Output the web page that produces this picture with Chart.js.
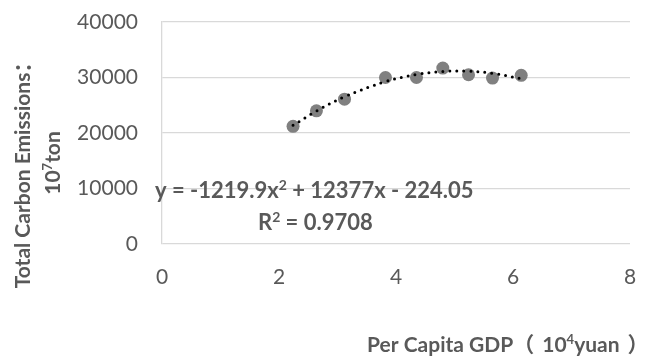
<!DOCTYPE html>
<html>
<head>
<meta charset="utf-8">
<script src="https://cdn.jsdelivr.net/npm/chart.js@4.4.1/dist/chart.umd.min.js"></script>
<style>
html,body{margin:0;padding:0;background:#fff;}
#wrap{width:646px;height:358px;}
</style>
</head>
<body>
<div id="wrap"><canvas id="c" width="646" height="358"></canvas></div>
<script>
// Data
const gdp = [2.24, 2.64, 3.12, 3.82, 4.35, 4.80, 5.24, 5.65, 6.14];
const emissions = [21200, 24000, 26100, 30000, 30000, 31700, 30500, 29900, 30400];
// Trendline values at the same x (from the displayed equation y = -1219.9x² + 12377x - 224.05)
const trendValues = [21380, 23950, 26520, 29260, 30530, 31080, 31140, 30760, 29780];
const xTicks = [0, 2, 4, 6, 8];
const yTicks = [0, 10000, 20000, 30000, 40000];
const equationText = [{t:'y = -1219.9x'},{t:'2',sup:true},{t:' + 12377x - 224.05'}];
const r2Text = [{t:'R'},{t:'2',sup:true},{t:' = 0.9708'}];
const yTitle1 = [{t:'Total Carbon Emissions：'}];
const yTitle2 = [{t:'10'},{t:'7',sup:true},{t:'ton'}];
const xTitle = [{t:'Per Capita GDP（'},{gap:8},{t:'10'},{t:'4',sup:true},{t:'yuan'},{gap:8},{t:'）'}];

const FONT = 'Lato, "Noto Sans", "Noto Sans CJK SC", sans-serif';
const TEXT = '#595959';

function partWidth(ctx, p, size){
  if (p.gap) return p.gap;
  ctx.font = 'bold ' + (p.sup ? Math.round(size*0.62) : size) + 'px ' + FONT;
  return ctx.measureText(p.t).width;
}
function drawRich(ctx, parts, x, y, size, align){
  let w = 0;
  for (const p of parts) w += partWidth(ctx, p, size);
  let cx = align === 'center' ? x - w/2 : (align === 'right' ? x - w : x);
  ctx.textBaseline = 'alphabetic';
  ctx.textAlign = 'left';
  ctx.fillStyle = TEXT;
  for (const p of parts){
    const pw = partWidth(ctx, p, size);
    if (!p.gap) ctx.fillText(p.t, cx, p.sup ? y - size*0.38 : y);
    cx += pw;
  }
}

const textPlugin = {
  id: 'texts',
  afterDraw(chart){
    const ctx = chart.ctx;
    ctx.save();
    drawRich(ctx, equationText, 155, 198, 22, 'left');
    drawRich(ctx, r2Text, 258, 230, 22, 'left');
    drawRich(ctx, xTitle, 367, 352, 21, 'left');
    ctx.save();
    ctx.translate(30, 170);
    ctx.rotate(-Math.PI/2);
    drawRich(ctx, yTitle1, 0, 0, 21, 'center');
    ctx.restore();
    ctx.save();
    ctx.translate(60, 163);
    ctx.rotate(-Math.PI/2);
    drawRich(ctx, yTitle2, 0, 0, 21, 'center');
    ctx.restore();
    ctx.restore();
  }
};

new Chart(document.getElementById('c'), {
  type: 'scatter',
  data: {
    datasets: [
      {
        label: 'Trend',
        data: gdp.map((x, i) => ({x: x, y: trendValues[i]})),
        showLine: true,
        borderColor: '#000000',
        borderWidth: 3,
        borderDash: [0, 7],
        borderCapStyle: 'round',
        tension: 0.4,
        pointRadius: 0,
        pointHoverRadius: 0,
        fill: false
      },
      {
        label: 'Emissions',
        data: gdp.map((x, i) => ({x: x, y: emissions[i]})),
        backgroundColor: '#808080',
        borderColor: '#808080',
        borderWidth: 0,
        pointRadius: 6.5,
        pointHoverRadius: 6.5
      }
    ]
  },
  options: {
    responsive: false,
    devicePixelRatio: 1,
    animation: false,
    events: [],
    layout: { padding: { left: 0, right: 16, top: 22, bottom: 0 } },
    plugins: { legend: { display: false }, tooltip: { enabled: false }, title: { display: false } },
    scales: {
      x: {
        type: 'linear',
        min: 0, max: 8,
        afterBuildTicks(scale){ scale.ticks = xTicks.map(v => ({value: v})); },
        afterFit(scale){ scale.height = 114; scale.paddingLeft = 0; scale.paddingRight = 0; },
        grid: { display: false, drawTicks: false },
        border: { display: false },
        ticks: { color: TEXT, padding: 21, font: { family: FONT, size: 21 }, maxRotation: 0 }
      },
      y: {
        type: 'linear',
        min: 0, max: 40000,
        afterBuildTicks(scale){ scale.ticks = yTicks.map(v => ({value: v})); },
        afterFit(scale){ scale.width = 162; scale.paddingTop = 0; scale.paddingBottom = 0; },
        grid: { color: '#d9d9d9', lineWidth: 1.3, drawTicks: false },
        border: { display: true, color: '#d9d9d9', width: 1.3 },
        ticks: { color: TEXT, padding: 24, font: { family: FONT, size: 21 }, callback: v => String(v) }
      }
    }
  },
  plugins: [textPlugin]
});
</script>
</body>
</html>
